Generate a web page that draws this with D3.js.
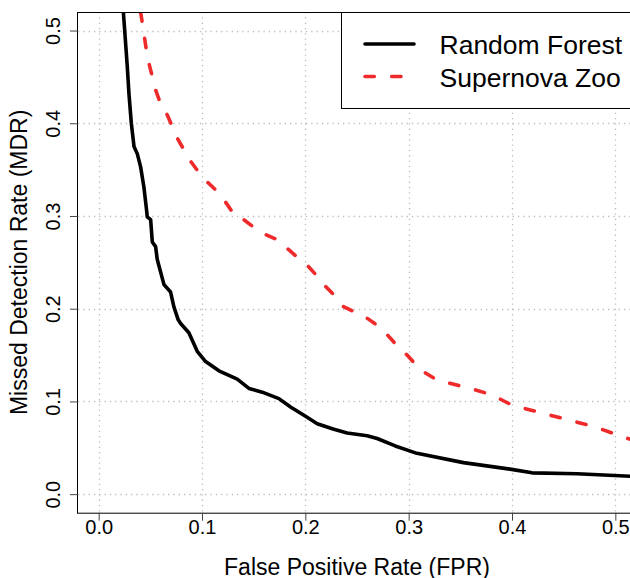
<!DOCTYPE html>
<html>
<head>
<meta charset="utf-8">
<script src="https://cdn.jsdelivr.net/npm/d3@7"></script>
<style>
  html, body { margin: 0; padding: 0; background: #fff; }
  svg { display: block; }
  text { font-family: "Liberation Sans", Arial, Helvetica, sans-serif; fill: #000; }
</style>
</head>
<body>
<svg id="chart" width="630" height="578"></svg>
<script>
// ---- data ----
const xTicks = [0.0, 0.1, 0.2, 0.3, 0.4, 0.5];
const yTicks = [0.0, 0.1, 0.2, 0.3, 0.4, 0.5];
const seriesNames = ["Random Forest", "Supernova Zoo"];

const rfFPR = [0.0239, 0.0261, 0.0277, 0.0293, 0.0316, 0.0342, 0.0374, 0.0406, 0.0438, 0.0464,
  0.0470, 0.0503, 0.0519, 0.0551, 0.0567, 0.0632, 0.0696, 0.0728, 0.0770, 0.0793,
  0.0873, 0.0954, 0.1035, 0.1164, 0.1341, 0.1454, 0.1583, 0.1744, 0.1857, 0.2002,
  0.2115, 0.2276, 0.2405, 0.2598, 0.2695, 0.2870, 0.3080, 0.3530, 0.3980, 0.4194,
  0.4630, 0.5200];
const rfMDR = [0.520, 0.486, 0.461, 0.432, 0.400, 0.375, 0.367, 0.353, 0.331, 0.306,
  0.299, 0.296, 0.272, 0.267, 0.253, 0.226, 0.218, 0.202, 0.188, 0.184,
  0.174, 0.154, 0.143, 0.133, 0.124, 0.114, 0.110, 0.103, 0.094, 0.084,
  0.076, 0.070, 0.066, 0.063, 0.060, 0.052, 0.044, 0.034, 0.027, 0.023,
  0.022, 0.019];

const snFPR = [0.0406, 0.0438, 0.0470, 0.0551, 0.0616, 0.0664, 0.0760, 0.0890, 0.1003, 0.1067,
  0.1180, 0.1228, 0.1325, 0.1405, 0.1535, 0.1615, 0.1760, 0.1825, 0.1938, 0.2018,
  0.2115, 0.2180, 0.2292, 0.2357, 0.2502, 0.2582, 0.2711, 0.2776, 0.2921, 0.2985,
  0.3114, 0.3276, 0.3630, 0.3807, 0.4000, 0.4307, 0.4790, 0.5200];
const snMDR = [0.520, 0.497, 0.472, 0.436, 0.416, 0.409, 0.384, 0.359, 0.342, 0.335,
  0.323, 0.315, 0.299, 0.296, 0.285, 0.280, 0.273, 0.265, 0.254, 0.247,
  0.235, 0.226, 0.213, 0.203, 0.195, 0.191, 0.181, 0.174, 0.156, 0.150,
  0.134, 0.123, 0.113, 0.107, 0.096, 0.087, 0.073, 0.057];

(function () {
// ---- layout ----
const pL = 78, pR = 636, pT = 12, pB = 512.7;
const svg = d3.select("#chart");

const x = d3.scaleLinear().domain([-0.02, 0.52]).range([pL, pR]);
const y = d3.scaleLinear().domain([-0.02, 0.52]).range([pB, pT]);

svg.append("defs").append("clipPath").attr("id", "plotclip")
  .append("rect").attr("x", pL).attr("y", pT)
  .attr("width", pR - pL).attr("height", pB - pT);

// grid
const grid = svg.append("g").attr("stroke", "#bdbdbd").attr("stroke-width", 1.3)
  .attr("stroke-dasharray", "1.3,4");
grid.selectAll("line.v").data(xTicks).join("line").attr("class", "v")
  .attr("x1", d => Math.round(x(d)) + 0.5).attr("x2", d => Math.round(x(d)) + 0.5)
  .attr("y1", pT).attr("y2", pB);
grid.selectAll("line.h").data(yTicks).join("line").attr("class", "h")
  .attr("y1", d => Math.round(y(d)) + 0.5).attr("y2", d => Math.round(y(d)) + 0.5)
  .attr("x1", pL).attr("x2", pR);

// curves
const line = d3.line().x(d => x(d[0])).y(d => y(d[1]));
const rf = rfFPR.map((v, i) => [v, rfMDR[i]]);
const sn = snFPR.map((v, i) => [v, snMDR[i]]);
const curves = svg.append("g").attr("clip-path", "url(#plotclip)");
curves.append("path").datum(sn).attr("d", line)
  .attr("fill", "none").attr("stroke", "#ee2a2a").attr("stroke-width", 3.6)
  .attr("stroke-dasharray", "9.3,17.4").attr("stroke-linecap", "round")
  .attr("stroke-linejoin", "round");
curves.append("path").datum(rf).attr("d", line)
  .attr("fill", "none").attr("stroke", "#000").attr("stroke-width", 3.6)
  .attr("stroke-linecap", "round").attr("stroke-linejoin", "round");

// box
svg.append("rect").attr("x", pL - 0.5).attr("y", pT + 0.5)
  .attr("width", pR - pL + 10).attr("height", pB - pT)
  .attr("fill", "none").attr("stroke", "#000").attr("stroke-width", 1);

// axes
const fmt = d3.format(".1f");
const xAxis = svg.append("g").attr("transform", `translate(0,${pB})`)
  .call(d3.axisBottom(x).tickValues(xTicks).tickFormat(fmt).tickSize(8).tickSizeOuter(0));
xAxis.select(".domain").remove();
xAxis.attr("font-family", null).attr("font-size", null);
xAxis.selectAll(".tick line").attr("stroke", "#444");
xAxis.selectAll(".tick text").attr("dy", null).attr("y", 21.5)
  .attr("font-size", 20);

const yAxis = svg.append("g").attr("transform", `translate(${pL},0)`)
  .call(d3.axisLeft(y).tickValues(yTicks).tickFormat(fmt).tickSize(8).tickSizeOuter(0));
yAxis.select(".domain").remove();
yAxis.attr("font-family", null).attr("font-size", null);
yAxis.selectAll(".tick line").attr("stroke", "#444");
yAxis.selectAll(".tick text").attr("dy", null).attr("x", null)
  .attr("transform", "translate(-18,0) rotate(-90)").attr("text-anchor", "middle")
  .attr("font-size", 20);

// titles
svg.append("text").attr("x", (pL + pR) / 2).attr("y", 574.5)
  .attr("text-anchor", "middle").attr("font-size", 23).text("False Positive Rate (FPR)");
svg.append("text").attr("transform", `translate(27,${(pT + pB) / 2}) rotate(-90)`)
  .attr("text-anchor", "middle").attr("font-size", 23).text("Missed Detection Rate (MDR)");

// legend
const lg = svg.append("g");
lg.append("rect").attr("x", 341.5).attr("y", pT + 0.5).attr("width", 320).attr("height", 96)
  .attr("fill", "#fff").attr("stroke", "#000").attr("stroke-width", 1);
const legendY = [44, 76.5];
const legendStyles = [
  { color: "#000", dash: null },
  { color: "#ee2a2a", dash: "9.3,17.4" }
];
seriesNames.forEach((name, i) => {
  lg.append("line").attr("x1", 365).attr("x2", 414).attr("y1", legendY[i]).attr("y2", legendY[i])
    .attr("stroke", legendStyles[i].color).attr("stroke-width", 3.6)
    .attr("stroke-linecap", "round")
    .attr("stroke-dasharray", legendStyles[i].dash);
  lg.append("text").attr("x", 439.5).attr("y", legendY[i] + 10)
    .attr("font-size", 26.5).text(name);
});
})();
</script>
</body>
</html>
